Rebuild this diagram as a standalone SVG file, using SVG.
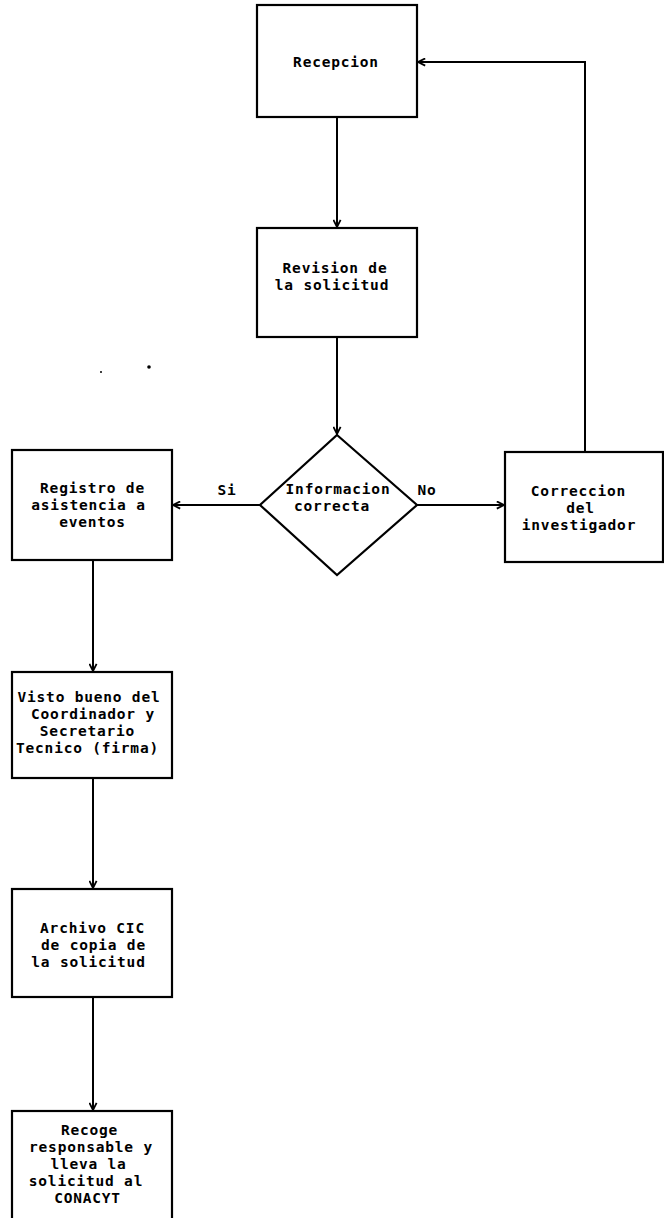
<svg xmlns="http://www.w3.org/2000/svg" width="664" height="1218" viewBox="0 0 664 1218">
<style>
.box{fill:#fff;stroke:#000;stroke-width:2.2}
.ln{fill:none;stroke:#000;stroke-width:2}
.t{font-family:"DejaVu Sans Mono","Liberation Mono",monospace;font-weight:bold;font-size:14.5px;letter-spacing:0.8px;fill:#000;text-anchor:middle}
</style>
<defs>
<marker id="ar" viewBox="0 0 10 10" refX="9" refY="5" markerWidth="9" markerHeight="9" markerUnits="userSpaceOnUse" orient="auto">
<path d="M1,1 L9,5 L1,9" fill="none" stroke="#000" stroke-width="2"/>
</marker>
</defs>
<rect width="664" height="1218" fill="#fff"/>
<g id="connectors">
<path class="ln" d="M337,117 V227" marker-end="url(#ar)"/>
<path class="ln" d="M337,337 V434" marker-end="url(#ar)"/>
<path class="ln" d="M260,505 H173" marker-end="url(#ar)"/>
<path class="ln" d="M417,505 H504" marker-end="url(#ar)"/>
<path class="ln" d="M585,452 V62 H418" marker-end="url(#ar)"/>
<path class="ln" d="M93,560 V671" marker-end="url(#ar)"/>
<path class="ln" d="M93,778 V888" marker-end="url(#ar)"/>
<path class="ln" d="M93,997 V1110" marker-end="url(#ar)"/>
<text class="t" x="227" y="495">Si</text>
<text class="t" x="427" y="495">No</text>
</g>
<g id="recepcion">
<rect class="box" x="257" y="5" width="160" height="112"/>
<text class="t" x="336" y="67">Recepcion</text>
</g>
<g id="revision">
<rect class="box" x="257" y="228" width="160" height="109"/>
<text class="t" x="335" y="273">Revision de</text>
<text class="t" x="332" y="290">la solicitud</text>
</g>
<g id="decision">
<path class="box" d="M337,435 L417,505 L337,575 L260,505 Z"/>
<text class="t" x="338" y="494">Informacion</text>
<text class="t" x="332" y="511">correcta</text>
</g>
<g id="registro">
<rect class="box" x="12" y="450" width="160" height="110"/>
<text class="t" x="92.5" y="493">Registro de</text>
<text class="t" x="88.5" y="510">asistencia a</text>
<text class="t" x="92.5" y="527">eventos</text>
</g>
<g id="correccion">
<rect class="box" x="505" y="452" width="158" height="110"/>
<text class="t" x="578.5" y="496">Correccion</text>
<text class="t" x="580.5" y="513">del</text>
<text class="t" x="579" y="530">investigador</text>
</g>
<g id="visto">
<rect class="box" x="12" y="672" width="160" height="106"/>
<text class="t" x="89" y="702">Visto bueno del</text>
<text class="t" x="93" y="719">Coordinador y</text>
<text class="t" x="87.5" y="736">Secretario</text>
<text class="t" x="87.5" y="753">Tecnico (firma)</text>
</g>
<g id="archivo">
<rect class="box" x="12" y="889" width="160" height="108"/>
<text class="t" x="92.5" y="933">Archivo CIC</text>
<text class="t" x="93.5" y="950">de copia de</text>
<text class="t" x="88.5" y="967">la solicitud</text>
</g>
<g id="recoge">
<rect class="box" x="12" y="1111" width="160" height="120"/>
<text class="t" x="89.5" y="1135">Recoge</text>
<text class="t" x="91" y="1152">responsable y</text>
<text class="t" x="88.5" y="1169">lleva la</text>
<text class="t" x="86" y="1186">solicitud al</text>
<text class="t" x="87.5" y="1203">CONACYT</text>
</g>
<circle cx="101" cy="372" r="1" fill="#000"/>
<circle cx="149" cy="367" r="1.8" fill="#000"/>
</svg>
